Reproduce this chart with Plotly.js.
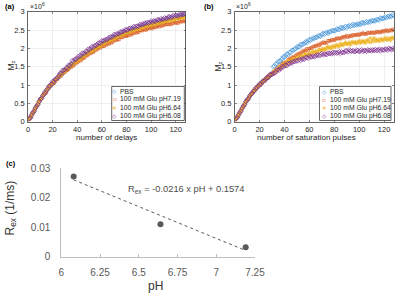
<!DOCTYPE html>
<html><head><meta charset="utf-8">
<script src="https://cdn.plot.ly/plotly-3.0.1.min.js"></script>
<style>html,body{margin:0;padding:0;background:#fff;overflow:hidden}#chart{width:400px;height:296px}</style>
</head><body><div id="chart"></div>
<script>
// ---------- data ----------
const seriesNames = ['PBS', '100 mM Glu pH7.19', '100 mM Glu pH6.64', '100 mM Glu pH6.08'];
const firstIndex = 1;   // first delay / pulse number
const yScaleExp = 6;    // values are in units of 10^6

// panel (a): M_z vs number of delays (x 10^6)
const delaysPBS = [0.08,0.11,0.19,0.24,0.29,0.37,0.43,0.47,0.54,0.62,0.63,0.71,0.74,0.82,0.85,0.88,
0.94,0.96,1.03,1.05,1.06,1.13,1.18,1.18,1.22,1.28,1.27,1.33,1.34,1.40,1.42,1.44,
1.49,1.50,1.56,1.57,1.57,1.63,1.67,1.66,1.69,1.74,1.72,1.78,1.78,1.83,1.84,1.85,
1.90,1.90,1.95,1.95,1.95,2.00,2.04,2.02,2.05,2.09,2.07,2.12,2.13,2.18,2.17,2.18,
2.20,2.24,2.24,2.24,2.30,2.30,2.30,2.32,2.36,2.33,2.38,2.40,2.39,2.41,2.46,2.43,
2.44,2.48,2.48,2.47,2.53,2.52,2.51,2.53,2.57,2.54,2.58,2.60,2.58,2.60,2.64,2.61,
2.64,2.63,2.67,2.66,2.66,2.70,2.72,2.69,2.71,2.74,2.71,2.74,2.73,2.77,2.76,2.76,
2.76,2.80,2.79,2.78,2.83,2.82,2.81,2.83,2.86,2.83,2.87,2.88,2.86,2.88,2.91,2.88];
const delays719 = [0.07,0.13,0.17,0.25,0.29,0.36,0.43,0.47,0.55,0.62,0.63,0.70,0.76,0.79,0.79,0.89,
0.93,0.99,1.00,1.06,1.04,1.10,1.15,1.16,1.21,1.27,1.25,1.30,1.34,1.35,1.39,1.40,
1.43,1.48,1.48,1.53,1.52,1.57,1.61,1.61,1.64,1.69,1.66,1.71,1.74,1.74,1.80,1.80,
1.83,1.87,1.86,1.90,1.89,1.93,1.97,1.96,2.00,2.04,2.01,2.05,2.06,2.06,2.10,2.10,
2.13,2.12,2.17,2.15,2.18,2.21,2.25,2.22,2.25,2.24,2.30,2.30,2.30,2.34,2.34,2.33,
2.36,2.35,2.40,2.37,2.40,2.42,2.45,2.42,2.45,2.44,2.49,2.49,2.48,2.52,2.51,2.50,
2.53,2.56,2.54,2.57,2.54,2.57,2.59,2.57,2.60,2.63,2.59,2.61,2.63,2.62,2.66,2.65,
2.66,2.65,2.69,2.65,2.67,2.69,2.72,2.69,2.70,2.69,2.74,2.73,2.72,2.76,2.74,2.73];
const delays664 = [0.06,0.13,0.20,0.22,0.31,0.36,0.41,0.50,0.54,0.61,0.63,0.72,0.75,0.79,0.86,0.91,
0.92,0.98,1.03,1.03,1.09,1.12,1.14,1.21,1.22,1.27,1.27,1.34,1.35,1.37,1.42,1.46,
1.46,1.51,1.55,1.54,1.59,1.61,1.62,1.68,1.68,1.72,1.71,1.78,1.78,1.79,1.84,1.87,
1.87,1.91,1.94,1.92,1.97,1.98,1.99,2.04,2.04,2.07,2.06,2.12,2.12,2.13,2.16,2.19,
2.18,2.21,2.24,2.22,2.26,2.27,2.28,2.32,2.32,2.34,2.33,2.38,2.38,2.38,2.42,2.44,
2.42,2.45,2.48,2.45,2.49,2.49,2.49,2.53,2.53,2.55,2.53,2.58,2.57,2.57,2.60,2.62,
2.60,2.63,2.65,2.62,2.66,2.66,2.65,2.69,2.68,2.70,2.68,2.72,2.71,2.71,2.74,2.76,
2.73,2.76,2.78,2.75,2.78,2.78,2.78,2.82,2.80,2.82,2.80,2.84,2.83,2.83,2.85,2.87];
const delays608 = [0.08,0.11,0.18,0.25,0.29,0.37,0.42,0.47,0.55,0.61,0.64,0.71,0.75,0.79,0.86,0.90,
0.97,0.98,1.03,1.10,1.08,1.15,1.17,1.20,1.26,1.32,1.32,1.40,1.40,1.42,1.47,1.47,
1.54,1.54,1.58,1.67,1.64,1.70,1.71,1.73,1.78,1.80,1.79,1.87,1.86,1.87,1.92,1.91,
1.98,1.97,2.00,2.05,2.02,2.07,2.08,2.09,2.14,2.15,2.14,2.21,2.20,2.21,2.24,2.23,
2.26,2.30,2.31,2.30,2.33,2.38,2.36,2.39,2.40,2.39,2.45,2.44,2.47,2.46,2.51,2.50,
2.50,2.54,2.55,2.53,2.56,2.60,2.57,2.60,2.61,2.60,2.65,2.64,2.66,2.65,2.69,2.68,
2.71,2.69,2.71,2.75,2.71,2.75,2.74,2.74,2.78,2.78,2.76,2.81,2.79,2.80,2.83,2.81,
2.82,2.86,2.86,2.84,2.86,2.90,2.87,2.90,2.89,2.88,2.93,2.91,2.93,2.92,2.95,2.94];

// panel (b): M_z vs number of saturation pulses (x 10^6)
const pulsesPBS = [0.08,0.11,0.19,0.24,0.29,0.37,0.43,0.47,0.54,0.60,0.63,0.70,0.74,0.79,0.81,0.86,
0.91,0.93,0.99,1.00,1.03,1.08,1.12,1.12,1.16,1.21,1.21,1.26,1.28,1.33,1.50,1.52,
1.57,1.58,1.64,1.65,1.66,1.72,1.77,1.76,1.80,1.85,1.83,1.89,1.89,1.95,1.95,1.97,
1.99,2.04,2.04,2.04,2.11,2.11,2.11,2.14,2.18,2.16,2.21,2.24,2.22,2.25,2.29,2.27,
2.30,2.30,2.34,2.34,2.33,2.38,2.41,2.38,2.41,2.44,2.41,2.45,2.45,2.49,2.48,2.48,
2.49,2.53,2.52,2.51,2.57,2.56,2.55,2.57,2.60,2.56,2.60,2.62,2.60,2.62,2.65,2.62,
2.65,2.64,2.67,2.66,2.65,2.69,2.71,2.68,2.70,2.73,2.70,2.73,2.72,2.76,2.75,2.75,
2.75,2.79,2.78,2.77,2.83,2.82,2.81,2.83,2.86,2.83,2.87,2.88,2.86,2.88,2.92,2.89];
const pulses719 = [0.07,0.13,0.17,0.25,0.29,0.36,0.43,0.47,0.55,0.60,0.63,0.69,0.75,0.77,0.83,0.86,
0.90,0.96,0.96,1.01,1.02,1.07,1.12,1.12,1.17,1.22,1.20,1.25,1.29,1.30,1.36,1.37,
1.41,1.42,1.48,1.47,1.52,1.56,1.60,1.59,1.62,1.63,1.69,1.71,1.71,1.76,1.76,1.76,
1.80,1.84,1.83,1.87,1.86,1.90,1.93,1.92,1.95,1.99,1.95,1.99,2.01,2.01,2.05,2.05,
2.07,2.07,2.11,2.08,2.12,2.14,2.17,2.14,2.16,2.15,2.21,2.21,2.20,2.24,2.23,2.22,
2.25,2.28,2.26,2.28,2.26,2.29,2.32,2.29,2.32,2.35,2.30,2.33,2.35,2.33,2.37,2.35,
2.37,2.36,2.39,2.36,2.38,2.40,2.42,2.39,2.40,2.39,2.43,2.42,2.41,2.44,2.43,2.41,
2.43,2.46,2.43,2.46,2.43,2.45,2.48,2.45,2.48,2.50,2.46,2.48,2.50,2.48,2.52,2.50];
const pulses664 = [0.06,0.13,0.19,0.23,0.31,0.36,0.41,0.49,0.54,0.60,0.63,0.70,0.74,0.77,0.83,0.87,
0.89,0.95,0.99,0.98,1.05,1.07,1.09,1.15,1.16,1.20,1.20,1.27,1.28,1.30,1.34,1.38,
1.41,1.38,1.45,1.50,1.47,1.51,1.57,1.55,1.55,1.62,1.66,1.62,1.67,1.64,1.72,1.70,
1.70,1.76,1.74,1.72,1.81,1.79,1.77,1.82,1.86,1.81,1.83,1.87,1.82,1.89,1.92,1.88,
1.92,1.88,1.93,1.98,1.93,1.96,2.00,1.97,1.96,2.02,2.05,2.00,2.03,2.00,2.07,2.05,
2.04,2.10,2.07,2.05,2.13,2.10,2.08,2.13,2.16,2.11,2.12,2.16,2.10,2.16,2.18,2.14,
2.17,2.13,2.17,2.21,2.15,2.17,2.21,2.17,2.15,2.21,2.23,2.17,2.28,2.17,2.23,2.28,
2.19,2.24,2.22,2.19,2.26,2.24,2.21,2.25,2.29,2.23,2.24,2.28,2.22,2.28,2.30,2.26];
const pulses608 = [0.08,0.11,0.18,0.25,0.29,0.37,0.42,0.47,0.55,0.59,0.63,0.70,0.74,0.77,0.83,0.85,
0.92,0.93,0.97,1.03,1.02,1.08,1.10,1.12,1.18,1.20,1.20,1.28,1.28,1.29,1.32,1.32,
1.35,1.41,1.42,1.41,1.45,1.50,1.49,1.53,1.54,1.53,1.59,1.58,1.61,1.60,1.64,1.64,
1.67,1.65,1.67,1.71,1.67,1.71,1.71,1.71,1.75,1.75,1.73,1.79,1.77,1.77,1.79,1.77,
1.79,1.82,1.82,1.80,1.82,1.86,1.82,1.85,1.84,1.83,1.87,1.86,1.87,1.85,1.89,1.87,
1.89,1.87,1.88,1.91,1.86,1.90,1.89,1.89,1.93,1.93,1.90,1.96,1.93,1.92,1.94,1.91,
1.92,1.95,1.94,1.91,1.93,1.96,1.92,1.94,1.94,1.92,1.96,1.94,1.95,1.93,1.96,1.94,
1.97,1.94,1.95,1.98,1.93,1.97,1.96,1.95,1.98,1.98,1.95,2.00,1.98,1.97,2.00,1.97];

// panel (c): exchange rate vs pH
const phValues = [6.08, 6.64, 7.19];
const rexValues = [0.0272, 0.0110, 0.0032];
const fitSlope = -0.0216;
const fitIntercept = 0.1574;

// tick labels
const mzTicks = [0, 0.5, 1, 1.5, 2, 2.5, 3];
const countTicks = [0, 20, 40, 60, 80, 100, 120];
const phTicks = [6, 6.25, 6.5, 6.75, 7, 7.25];
const rexTicks = [0, 0.01, 0.02, 0.03];

// ---------- styles ----------
const W = 400, H = 296;
const px = v => v / W, py = v => 1 - v / H;
const FONT = 'Liberation Sans, Arial, sans-serif';
const colors = ['#3d8fd6', '#d95319', '#edb120', '#7e2f8e'];
const symbols = ['diamond-open', 'square-open', 'asterisk-open', 'diamond-open'];
const sizes = [3.6, 2.4, 3.6, 3.6];
const glyphs = ['◇', '▫', '✳', '◇'];

const panelA = [delaysPBS, delays719, delays664, delays608];
const panelB = [pulsesPBS, pulses719, pulses664, pulses608];

const traces = [];
function addPanel(list, xa, ya) {
  list.forEach((ys, i) => {
    traces.push({
      type: 'scatter', mode: 'markers', x0: firstIndex, dx: 1, y: ys,
      xaxis: xa, yaxis: ya, showlegend: false, hoverinfo: 'skip',
      marker: { symbol: symbols[i], size: sizes[i], color: colors[i], line: { color: colors[i], width: 0.65 } }
    });
  });
}
addPanel(panelA, 'x', 'y');
addPanel(panelB, 'x2', 'y2');

// panel (c)
const fitX = [Math.min(...phValues), Math.max(...phValues)];
traces.push({
  type: 'scatter', mode: 'lines', x: fitX, y: fitX.map(v => fitSlope * v + fitIntercept),
  xaxis: 'x3', yaxis: 'y3', showlegend: false, hoverinfo: 'skip',
  line: { color: '#595959', width: 1, dash: 'dot' }
});
traces.push({
  type: 'scatter', mode: 'markers', x: phValues, y: rexValues,
  xaxis: 'x3', yaxis: 'y3', showlegend: false, hoverinfo: 'skip',
  marker: { color: '#595959', size: 6 }
});

const common = {
  ticks: 'inside', ticklen: 2, tickwidth: 0.6, tickcolor: '#404040',
  showgrid: true, gridcolor: '#e8e8e8', gridwidth: 0.7, zeroline: false,
  showline: true, linecolor: '#404040', linewidth: 0.8, mirror: 'ticks',
  ticklabeloverflow: 'allow', automargin: false,
  tickfont: { family: FONT, size: 7.5, color: '#262626' }, fixedrange: true
};
const matX = (dom, anchor) => Object.assign({
  domain: dom, anchor: anchor, range: [0, 128], tickmode: 'array', tickvals: countTicks, ticktext: countTicks.map(String)
}, common);
const matY = (dom, anchor) => Object.assign({}, common, {
  domain: dom, anchor: anchor, range: [0, 3], tickmode: 'array', tickvals: mzTicks, ticktext: mzTicks.map(String),
  ticklabelstandoff: 1
});
const yDomAB = [py(121.7), py(11.7)];

const annotations = [];
const ann = (x, y, text, opts) => annotations.push(Object.assign({
  xref: 'paper', yref: 'paper', x: px(x), y: py(y), text: text, showarrow: false,
  xanchor: 'center', yanchor: 'middle', font: { family: FONT, size: 8, color: '#262626' }
}, opts || {}));

// panel labels
ann(3, 6, '<b>(a)</b>', { xanchor: 'left', font: { family: FONT, size: 7.5, color: '#000' } });
ann(202, 6, '<b>(b)</b>', { xanchor: 'left', font: { family: FONT, size: 7.5, color: '#000' } });
ann(4, 163, '<b>(c)</b>', { xanchor: 'left', font: { family: FONT, size: 7.5, color: '#000' } });
// exponent labels
ann(27.5, 6.5, '\u00d710<sup>' + yScaleExp + '</sup>', { xanchor: 'left', font: { family: FONT, size: 7, color: '#262626' } });
ann(234, 6.5, '\u00d710<sup>' + yScaleExp + '</sup>', { xanchor: 'left', font: { family: FONT, size: 7, color: '#262626' } });
// axis titles a/b
ann(10.5, 66, 'M<sub>z</sub>', { textangle: -90, font: { family: FONT, size: 8.5, color: '#262626' } });
ann(217.5, 66, 'M<sub>z</sub>', { textangle: -90, font: { family: FONT, size: 8.5, color: '#262626' } });
ann(106.7, 137.5, 'number of delays', { font: { family: FONT, size: 8, color: '#262626' } });
ann(306.7, 137.5, 'number of saturation pulses', { font: { family: FONT, size: 8, color: '#262626' } });

// manual legends
const shapes = [];
function legend(x0, x1, y0, y1, mx, tx, ys) {
  shapes.push({ type: 'rect', xref: 'paper', yref: 'paper', x0: px(x0), x1: px(x1), y0: py(y1), y1: py(y0),
    line: { color: '#404040', width: 0.8 }, fillcolor: '#ffffff' });
  seriesNames.forEach((n, i) => {
    ann(mx, ys[i], glyphs[i], { font: { family: 'DejaVu Sans', size: 5.5, color: colors[i] } });
    ann(tx, ys[i], n, { xanchor: 'left', font: { family: FONT, size: 6.8, color: '#262626' } });
  });
}
legend(111.7, 184.3, 86.5, 120.5, 114.5, 117.5, [91, 99.3, 107.6, 115.9]);
legend(319.5, 391, 86.5, 120.5, 324, 327.5, [91.5, 99.5, 107.6, 115.6]);

// panel (c) texts
ann(125.5, 189.3, 'R<sub>ex</sub> = ' + fitSlope + ' x pH + ' + fitIntercept,
  { xanchor: 'left', font: { family: FONT, size: 9.3, color: '#4d4d4d' } });
ann(155, 286, 'pH', { font: { family: FONT, size: 12, color: '#333' } });
ann(10.5, 208, 'R<sub>ex</sub> (1/ms)', { textangle: -90, font: { family: FONT, size: 12, color: '#333' } });

const layout = {
  width: W, height: H, margin: { l: 0, r: 0, t: 0, b: 0, pad: 0 },
  paper_bgcolor: '#fff', plot_bgcolor: '#fff', showlegend: false,
  xaxis: matX([px(28), px(185.5)], 'y'),
  yaxis: matY(yDomAB, 'x'),
  xaxis2: matX([px(234.7), px(394)], 'y2'),
  yaxis2: matY(yDomAB, 'x2'),
  xaxis3: {
    domain: [px(61.3), px(255)], anchor: 'y3', range: [6, 7.25], tickmode: 'array', tickvals: phTicks, ticktext: phTicks.map(String),
    ticks: 'inside', ticklen: 3, tickcolor: '#bfbfbf', showgrid: false, zeroline: false,
    showline: true, linecolor: '#bfbfbf', linewidth: 1, ticklabelstandoff: 6, ticklabeloverflow: 'allow',
    tickfont: { family: FONT, size: 10, color: '#595959' }, fixedrange: true
  },
  yaxis3: {
    domain: [py(256.7), py(168.3)], anchor: 'x3', range: [0, 0.03], tickmode: 'array', tickvals: rexTicks, ticktext: rexTicks.map(String),
    ticks: '', showgrid: false, zeroline: false,
    showline: true, linecolor: '#bfbfbf', linewidth: 1, ticklabelstandoff: 8, ticklabeloverflow: 'allow',
    tickfont: { family: FONT, size: 10, color: '#595959' }, fixedrange: true
  },
  annotations: annotations, shapes: shapes
};
Plotly.newPlot('chart', traces, layout, { staticPlot: true, displayModeBar: false });
</script></body></html>
